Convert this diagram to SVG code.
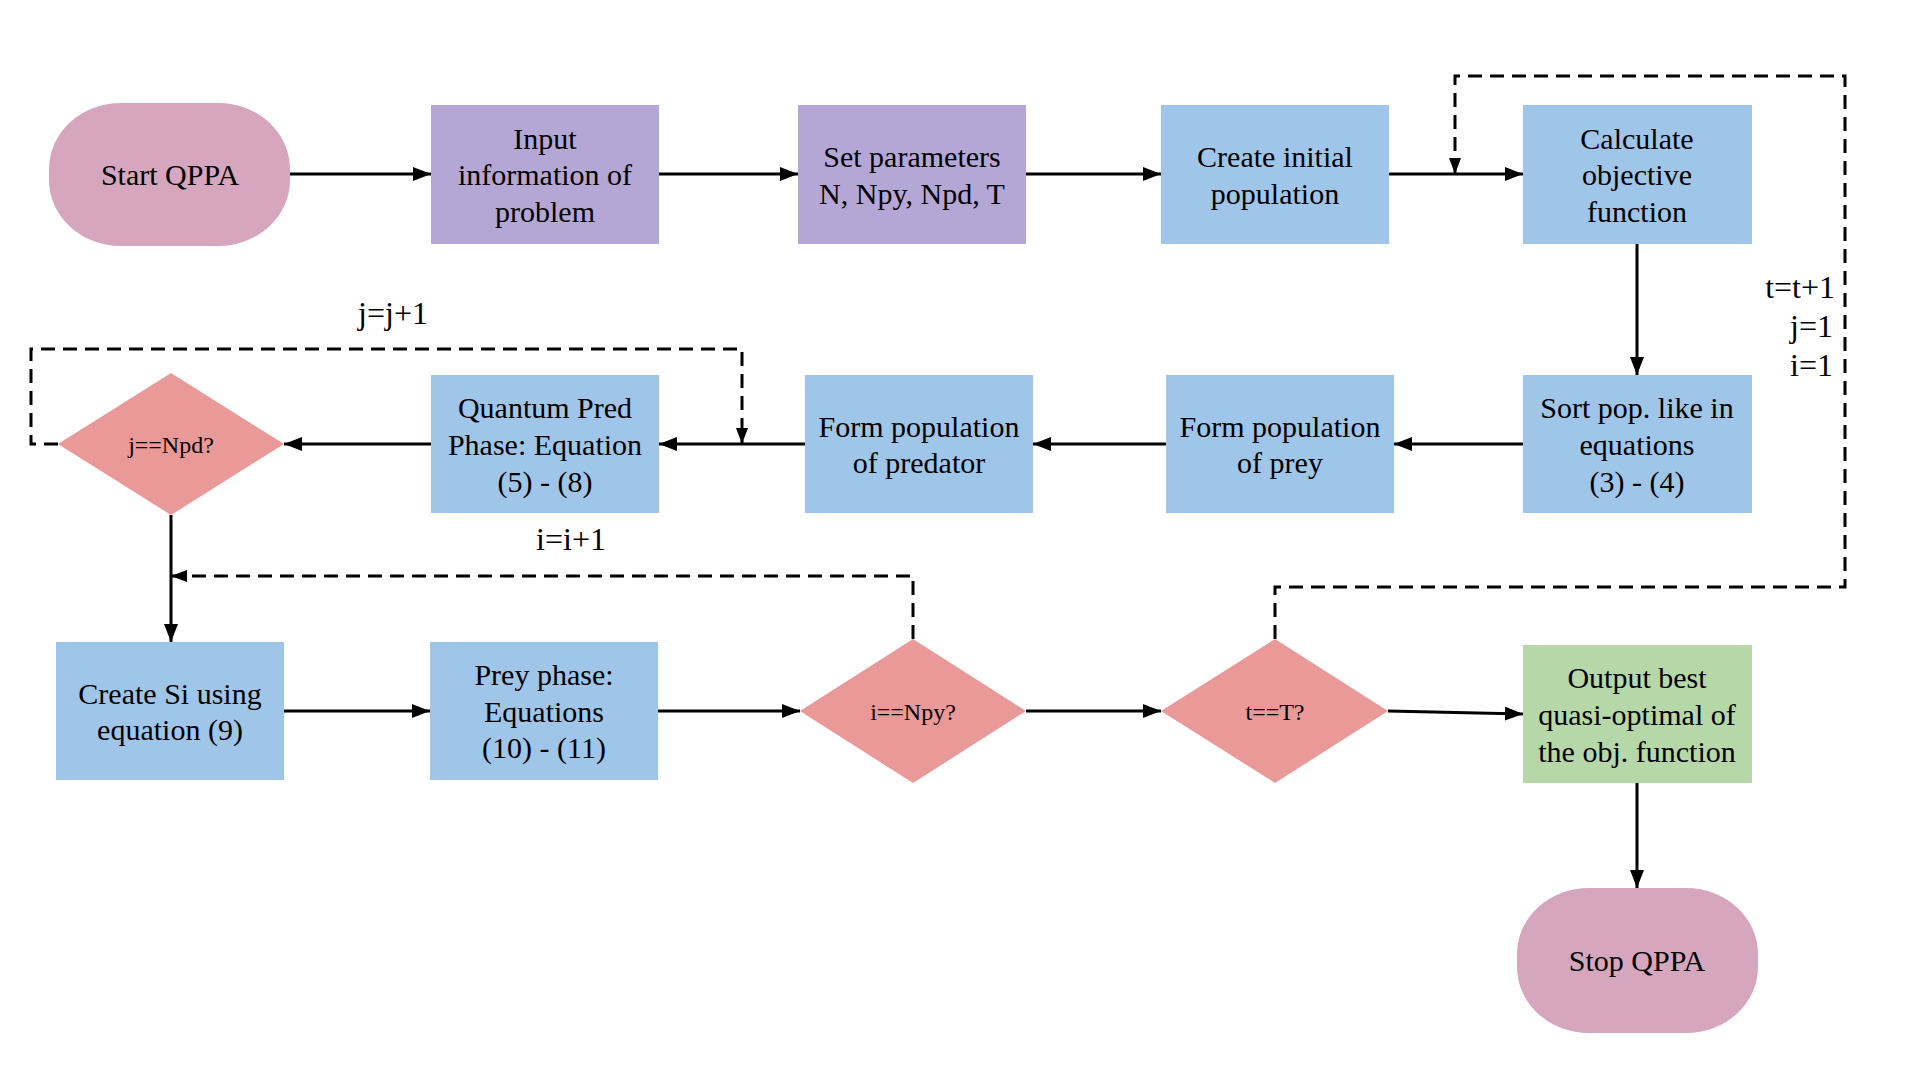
<svg xmlns="http://www.w3.org/2000/svg" width="1920" height="1080" viewBox="0 0 1920 1080">
<defs>
<style>
.t{font-family:"Liberation Serif","Times New Roman",serif;font-size:30px;fill:#000;text-anchor:middle}
.d{font-family:"Liberation Serif","Times New Roman",serif;font-size:24px;fill:#000;text-anchor:middle}
.l{font-family:"Liberation Serif","Times New Roman",serif;font-size:32px;fill:#000}
.purple{fill:#b4a7d6}
.blue{fill:#9fc5e8}
.red{fill:#ea9999}
.pink{fill:#d5a6bd}
.green{fill:#b6d7a8}
.c{fill:none;stroke:#000;stroke-width:3;marker-end:url(#ah)}
.dash{fill:none;stroke:#000;stroke-width:3;stroke-dasharray:14 8;marker-end:url(#ah2)}
</style>
<marker id="ah" markerUnits="userSpaceOnUse" markerWidth="20" markerHeight="16" refX="18" refY="7" orient="auto">
<path d="M0,0 L18,7 L0,14 Z" fill="#000"/>
</marker>
<marker id="ah2" markerUnits="userSpaceOnUse" markerWidth="18" markerHeight="14" refX="16" refY="6" orient="auto">
<path d="M0,0 L16,6 L0,12 Z" fill="#000"/>
</marker>
</defs>
<rect width="1920" height="1080" fill="#fff"/>

<g id="connectors">
<line class="c" x1="290" y1="174" x2="431" y2="174"/>
<line class="c" x1="659" y1="174" x2="798" y2="174"/>
<line class="c" x1="1026" y1="174" x2="1161" y2="174"/>
<line class="c" x1="1389" y1="174" x2="1523" y2="174"/>
<line class="c" x1="1637" y1="244" x2="1637" y2="375"/>
<line class="c" x1="1523" y1="444" x2="1394" y2="444"/>
<line class="c" x1="1166" y1="444" x2="1033" y2="444"/>
<line class="c" x1="805" y1="444" x2="659" y2="444"/>
<line class="c" x1="431" y1="444" x2="284" y2="444"/>
<line class="c" x1="171" y1="515" x2="171" y2="642"/>
<line class="c" x1="284" y1="711" x2="430" y2="711"/>
<line class="c" x1="658" y1="711" x2="800" y2="711"/>
<line class="c" x1="1026" y1="711" x2="1161" y2="711"/>
<line class="c" x1="1388" y1="711" x2="1523" y2="714"/>
<line class="c" x1="1637" y1="783" x2="1637" y2="888"/>
<polyline class="dash" points="58,444 31,444 31,349 742,349 742,444"/>
<polyline class="dash" points="913,639 913,576 171,576"/>
<polyline class="dash" points="1275,639 1275,587 1845,587 1845,76 1455,76 1455,174"/>
<text class="l" x="393" y="324" text-anchor="middle">j=j+1</text>
<text class="l" x="571" y="550" text-anchor="middle">i=i+1</text>
<text class="l" x="1835" y="298" text-anchor="end">t=t+1</text>
<text class="l" x="1833" y="337" text-anchor="end">j=1</text>
<text class="l" x="1833" y="376" text-anchor="end">i=1</text>
</g>

<g id="start">
<rect class="pink" x="49" y="103" width="241" height="143" rx="72" ry="66"/>
<text class="t" x="170" y="185">Start QPPA</text>
</g>
<g id="input">
<rect class="purple" x="431" y="105" width="228" height="139"/>
<text class="t" x="545" y="149">Input</text>
<text class="t" x="545" y="185">information of</text>
<text class="t" x="545" y="222">problem</text>
</g>
<g id="setparams">
<rect class="purple" x="798" y="105" width="228" height="139"/>
<text class="t" x="912" y="167">Set parameters</text>
<text class="t" x="912" y="204">N, Npy, Npd, T</text>
</g>
<g id="createinit">
<rect class="blue" x="1161" y="105" width="228" height="139"/>
<text class="t" x="1275" y="167">Create initial</text>
<text class="t" x="1275" y="204">population</text>
</g>
<g id="calc">
<rect class="blue" x="1523" y="105" width="229" height="139"/>
<text class="t" x="1637" y="149">Calculate</text>
<text class="t" x="1637" y="185">objective</text>
<text class="t" x="1637" y="222">function</text>
</g>
<g id="sort">
<rect class="blue" x="1523" y="375" width="229" height="138"/>
<text class="t" x="1637" y="418">Sort pop. like in</text>
<text class="t" x="1637" y="455">equations</text>
<text class="t" x="1637" y="492">(3) - (4)</text>
</g>
<g id="formprey">
<rect class="blue" x="1166" y="375" width="228" height="138"/>
<text class="t" x="1280" y="437">Form population</text>
<text class="t" x="1280" y="473">of prey</text>
</g>
<g id="formpred">
<rect class="blue" x="805" y="375" width="228" height="138"/>
<text class="t" x="919" y="437">Form population</text>
<text class="t" x="919" y="473">of predator</text>
</g>
<g id="quantum">
<rect class="blue" x="431" y="375" width="228" height="138"/>
<text class="t" x="545" y="418">Quantum Pred</text>
<text class="t" x="545" y="455">Phase: Equation</text>
<text class="t" x="545" y="492">(5) - (8)</text>
</g>
<g id="jdec">
<polygon class="red" points="171,373 284,444 171,515 58,444"/>
<text class="d" x="171" y="453">j==Npd?</text>
</g>
<g id="createsi">
<rect class="blue" x="56" y="642" width="228" height="138"/>
<text class="t" x="170" y="704">Create Si using</text>
<text class="t" x="170" y="740">equation (9)</text>
</g>
<g id="preyphase">
<rect class="blue" x="430" y="642" width="228" height="138"/>
<text class="t" x="544" y="685">Prey phase:</text>
<text class="t" x="544" y="722">Equations</text>
<text class="t" x="544" y="758">(10) - (11)</text>
</g>
<g id="idec">
<polygon class="red" points="913,639 1026,711 913,783 800,711"/>
<text class="d" x="913" y="720">i==Npy?</text>
</g>
<g id="tdec">
<polygon class="red" points="1275,639 1388,711 1275,783 1161,711"/>
<text class="d" x="1275" y="720">t==T?</text>
</g>
<g id="output">
<rect class="green" x="1523" y="645" width="229" height="138"/>
<text class="t" x="1637" y="688">Output best</text>
<text class="t" x="1637" y="725">quasi-optimal of</text>
<text class="t" x="1637" y="762">the obj. function</text>
</g>
<g id="stop">
<rect class="pink" x="1517" y="888" width="241" height="145" rx="72" ry="66"/>
<text class="t" x="1637" y="971">Stop QPPA</text>
</g>
</svg>
